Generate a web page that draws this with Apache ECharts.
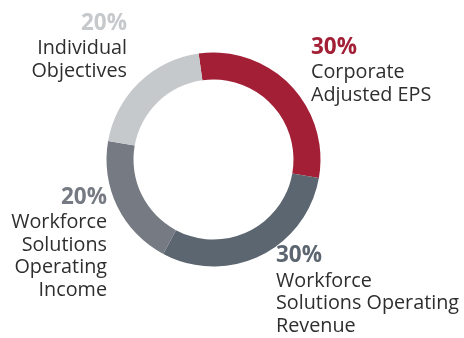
<!DOCTYPE html>
<html>
<head>
<meta charset="utf-8">
<script src="https://cdn.jsdelivr.net/npm/echarts@6/dist/echarts.min.js"></script>
<style>
  html, body { margin: 0; padding: 0; background: #fff; }
  #chart { width: 464px; height: 338px; }
</style>
</head>
<body>
<div id="chart"></div>
<script>
// 各项权重
var categories = ['Corporate\nAdjusted EPS', 'Workforce\nSolutions Operating\nRevenue', 'Workforce\nSolutions\nOperating\nIncome', 'Individual\nObjectives'];
var values = [30, 30, 20, 20];

var colors = ['#A31F36', '#5C6670', '#757A83', '#C6C9CC'];
// 标签位置 [x, y, 对齐]
var labelPos = [
    [311, 33.5, 'left'],
    [276, 242, 'left'],
    [107, 183.5, 'right'],
    [127, 9.5, 'right']
];

function makeLabel(i) {
    var al = labelPos[i][2];
    return {
        rich: {
            p: { fontFamily: 'Open Sans', fontWeight: 'bold', fontSize: 22.5, lineHeight: 28, color: colors[i], align: al },
            t: { fontFamily: 'Open Sans', fontSize: 19.8, lineHeight: 22.5, color: '#2e2e2e', align: al }
        }
    };
}

var seriesData = [];
for (var i = 0; i < values.length; i++) {
    seriesData.push({
        name: categories[i],
        value: values[i],
        itemStyle: { color: colors[i] },
        label: makeLabel(i)
    });
}

var myChart = echarts.init(document.getElementById('chart'));
var option = {
    animation: false,
    series: [{
        type: 'pie',
        center: [213.5, 159.5],
        radius: [80, 107],
        startAngle: 98,
        clockwise: true,
        silent: true,
        label: {
            show: true,
            position: 'outside',
            alignTo: 'none',
            overflow: 'none',
            formatter: function (params) {
                var lines = params.name.split('\n').map(function (l) {
                    return '{t|' + l + '}';
                });
                return '{p|' + params.value + '%}\n' + lines.join('\n');
            }
        },
        labelLine: { show: false },
        labelLayout: function (params) {
            var p = labelPos[params.dataIndex];
            return { x: p[0], y: p[1], align: p[2], verticalAlign: 'top' };
        },
        data: seriesData
    }]
};
myChart.setOption(option);
</script>
</body>
</html>
